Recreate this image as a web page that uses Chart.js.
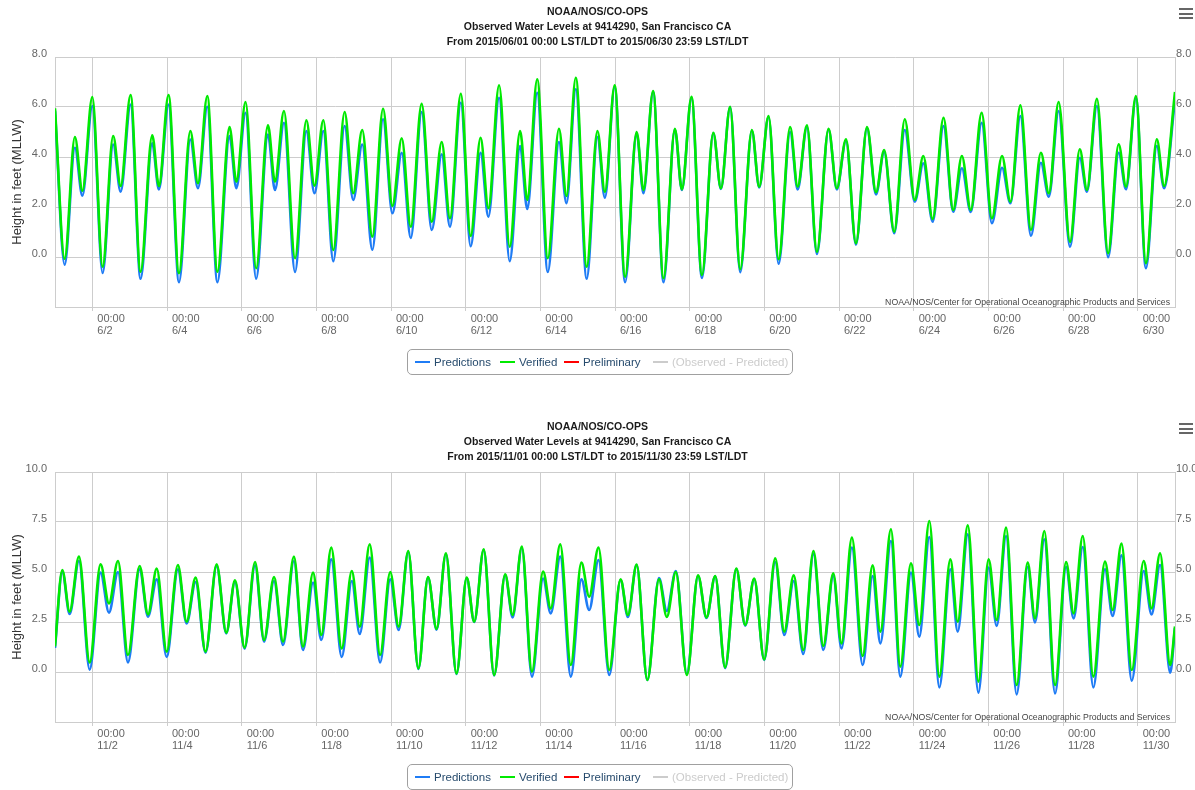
<!DOCTYPE html>
<html>
<head>
<meta charset="utf-8">
<script src="https://cdn.jsdelivr.net/npm/chart.js@4.4.1/dist/chart.umd.min.js"></script>
<style>
  html, body { margin: 0; padding: 0; background: #fff; overflow: hidden; }
  body { width: 1195px; height: 790px; position: relative; font-family: "Liberation Sans", Arial, Helvetica, sans-serif; }
  .panel { position: absolute; left: 0; width: 1195px; height: 415px; }
  .panel canvas { position: absolute; left: 0; top: 0; }
  .menu { position: absolute; left: 1179px; top: 8px; width: 14px; }
  .menu i { display: block; height: 2px; background: #666; margin-bottom: 2.5px; }
  .legend { position: absolute; left: 407px; top: 349px; width: 384px; height: 24px;
            border: 1px solid #a0a0a0; border-radius: 5px; background: #fff; font-size: 11.5px; }
  .legend .sym { position: absolute; top: 11px; width: 15px; height: 2px; }
  .legend .txt { position: absolute; top: 0; line-height: 24px; white-space: nowrap; color: #274b6d; }
</style>
</head>
<body>
<div class="panel" id="jun" style="top:0px"><canvas width="1195" height="415"></canvas><div class="menu"><i></i><i></i><i></i></div><div class="legend"></div></div>
<div class="panel" id="nov" style="top:415px"><canvas width="1195" height="415"></canvas><div class="menu"><i></i><i></i><i></i></div><div class="legend"></div></div>
<script>
// ---- data: tide turning points, hours after 00:00 on the 1st of the month ----
const JUN_HOURS = [0, 6.2, 12.8, 17.6, 24, 30.6, 37.4, 42.2, 48.6, 55, 62.5, 66.8, 73, 79.7, 87, 91.9,
  97.9, 104.4, 112.2, 116.6, 122.5, 129.3, 136.9, 141.4, 147.2, 154.3, 161.6, 166.8, 172.5, 178.9,
  186.2, 191.7, 197.5, 204, 210.9, 216.9, 222.9, 228.7, 235.7, 242.2, 248.6, 253.9, 260.9, 267.2,
  273.6, 278.6, 285.5, 292.3, 299, 303.6, 310, 316.8, 324, 328.8, 334.8, 341.8, 348.7, 353.5, 359.8,
  366.5, 373.9, 378.3, 384.5, 391.2, 398.5, 403, 409.2, 415.9, 423.2, 428.1, 434, 440.5, 448, 452.7,
  458.7, 465.2, 472.6, 477.4, 483.4, 489.8, 497.3, 502.6, 508.5, 514.9, 522, 527.8, 533, 539.5,
  546.3, 552.7, 558.2, 564.2, 571.2, 577.4, 583, 588.7, 595.7, 602.3, 608.8, 614.2, 620.6, 627.4,
  633.8, 638.9, 645.2, 652.5, 658.8, 663.4, 669.8, 677, 683.8, 688.5, 694.9, 701.3, 708.3, 713, 720];
const JUN_VERIFIED = [5.95, -0.07, 4.8, 2.65, 6.4, -0.39, 4.84, 2.84, 6.48, -0.59, 4.87, 2.84, 6.48, -0.65, 5.04, 2.95,
  6.44, -0.59, 5.2, 3.01, 6.2, -0.45, 5.27, 3.01, 5.84, -0.05, 5.47, 2.85, 5.47, 0.28,
  5.8, 2.55, 5.08, 0.81, 5.93, 2.04, 4.75, 1.21, 6.13, 1.41, 4.6, 1.55, 6.53, 0.84,
  4.77, 1.95, 6.87, 0.41, 5.04, 2.28, 7.11, -0.05, 5.13, 2.44, 7.17, -0.39, 5.04, 2.61, 6.87,
  -0.79, 5.0, 2.68, 6.64, -0.85, 5.13, 2.71, 6.41, -0.72, 4.97, 2.75, 6.01, -0.49, 5.08, 2.81,
  5.64, -0.09, 5.2, 2.81, 5.27, 0.21, 5.13, 2.75, 4.71, 0.55, 5.2, 2.59, 4.28, 1.01,
  5.51, 2.28, 4.04, 1.52, 5.57, 1.88, 4.04, 1.88, 5.77, 1.55, 4.04, 2.21, 6.07, 1.08,
  4.17, 2.55, 6.2, 0.61, 4.31, 2.68, 6.33, 0.15, 4.51, 2.81, 6.44, -0.25, 4.71, 2.84, 6.6];
const JUN_PREDICTED = [5.85, -0.31, 4.37, 2.45, 6.04, -0.64, 4.5, 2.61, 6.1, -0.87, 4.55, 2.7, 6.1, -1.01, 4.7, 2.75,
  6.01, -1.01, 4.84, 2.75, 5.77, -0.87, 4.9, 2.68, 5.37, -0.6, 5.04, 2.55, 5.04, -0.17,
  5.24, 2.28, 4.5, 0.29, 5.51, 1.75, 4.17, 0.76, 5.8, 1.08, 4.11, 1.21, 6.17, 0.43,
  4.17, 1.61, 6.37, -0.17, 4.44, 1.92, 6.57, -0.6, 4.6, 2.15, 6.71, -0.87, 4.8, 2.37, 6.8,
  -1.01, 4.95, 2.55, 6.6, -1.01, 5.1, 2.68, 6.35, -0.84, 4.95, 2.72, 6.0, -0.61, 5.05, 2.78,
  5.6, -0.27, 5.0, 2.7, 5.2, 0.12, 5.1, 2.7, 4.65, 0.5, 5.15, 2.5, 4.2, 0.95,
  5.08, 2.21, 3.75, 1.41, 5.24, 1.81, 3.55, 1.8, 5.37, 1.35, 3.57, 2.15, 5.64, 0.85,
  3.77, 2.41, 5.84, 0.41, 3.97, 2.61, 6.04, -0.01, 4.17, 2.71, 6.35, -0.45, 4.44, 2.75, 6.3];
const JUN_DATES = ['6/2', '6/4', '6/6', '6/8', '6/10', '6/12', '6/14', '6/16', '6/18', '6/20',
  '6/22', '6/24', '6/26', '6/28', '6/30'];
const JUN_Y_TICKS = [-2, 0, 2, 4, 6, 8];
const JUN_TITLE = ['NOAA/NOS/CO-OPS', 'Observed Water Levels at 9414290, San Francisco CA',
  'From 2015/06/01 00:00 LST/LDT to 2015/06/30 23:59 LST/LDT'];

const NOV_HOURS = [0, 4.7, 9.4, 15.4, 22.3, 29.3, 34.7, 40.5, 46.9, 54.4, 59.8, 65.4, 71.8, 79, 84.6, 90.4,
  96.8, 103.9, 110.1, 115.7, 121.9, 128.6, 134.4, 140.8, 146.6, 153.6, 159.4, 165.9, 171.2, 177.6,
  184.3, 190.8, 195.9, 202.3, 209, 215.5, 220.9, 227.1, 233.6, 239.8, 245.3, 251.3, 258.1, 264.7,
  269.5, 275.6, 282.3, 289.4, 294.2, 300.1, 306.6, 313.8, 318.7, 324.8, 331.6, 338.4, 343.4, 349.4,
  356.3, 363.6, 368.3, 373.9, 380.8, 388.3, 393.3, 399.1, 406.2, 413.4, 418.8, 424.4, 430.8, 438,
  443.7, 449.5, 455.9, 463, 468.8, 474.9, 481, 487.6, 493.9, 500.3, 505.6, 512.3, 519.2, 525.6,
  530.6, 537.4, 543.4, 550.3, 555.6, 562.1, 568.5, 575.6, 580.3, 586.8, 593.6, 600.2, 605.4, 611.4,
  618.2, 625.3, 630, 636, 642.9, 650, 654.8, 660.7, 667.5, 675, 679.9, 685.6, 692.2, 699.9, 704.9,
  710.4, 716.9, 720];
const NOV_VERIFIED = [1.28, 5.1, 3.02, 5.77, 0.48, 5.38, 3.43, 5.55, 0.85, 5.3, 2.88, 5.17, 1.02, 5.35, 2.52, 4.72,
  1.02, 5.38, 1.97, 4.58, 1.22, 5.5, 1.6, 4.75, 1.52, 5.77, 1.27, 4.97, 1.85, 6.22,
  1.18, 5.05, 2.27, 6.38, 0.85, 5.0, 2.27, 6.05, 0.18, 4.75, 2.15, 5.93, -0.07, 4.72,
  2.52, 6.13, -0.15, 4.88, 2.85, 6.27, 0.02, 5.02, 3.18, 6.38, 0.35, 5.47, 3.77, 6.22,
  0.1, 4.63, 2.85, 5.37, -0.4, 4.63, 2.75, 5.0, -0.15, 4.83, 2.73, 4.8, 0.23, 5.17,
  2.35, 4.67, 0.63, 5.68, 2.02, 4.83, 1.1, 6.05, 1.3, 4.93, 1.43, 6.72, 0.8, 5.33,
  2.02, 7.13, 0.27, 5.43, 2.35, 7.55, -0.23, 5.63, 2.52, 7.33, -0.48, 5.63, 2.6, 7.22,
  -0.65, 5.47, 2.68, 7.05, -0.65, 5.5, 2.93, 6.8, -0.23, 5.52, 3.1, 6.42, 0.1, 5.55, 3.18,
  5.93, 0.35, 2.28];
const NOV_PREDICTED = [1.2, 5.0, 2.9, 5.55, 0.12, 4.97, 2.97, 5.0, 0.48, 5.13, 2.77, 4.63, 0.75, 5.13, 2.43, 4.5,
  0.97, 5.3, 1.93, 4.5, 1.17, 5.33, 1.52, 4.55, 1.35, 5.55, 1.1, 4.47, 1.6, 5.63,
  0.75, 4.55, 1.9, 5.72, 0.48, 4.63, 2.1, 6.0, 0.15, 4.72, 2.12, 5.9, -0.1, 4.7,
  2.5, 6.1, -0.17, 4.85, 2.73, 6.2, -0.23, 4.67, 2.93, 5.77, -0.23, 4.63, 3.1, 5.6,
  -0.15, 4.6, 2.75, 5.35, -0.4, 4.7, 3.05, 5.05, -0.1, 4.8, 2.7, 4.78, 0.2, 5.15,
  2.32, 4.63, 0.6, 5.5, 1.85, 4.55, 0.9, 5.9, 1.1, 4.8, 1.18, 6.22, 0.35, 4.8,
  1.43, 6.55, -0.23, 4.97, 1.77, 6.75, -0.77, 5.13, 2.02, 6.88, -1.03, 5.22, 2.3, 6.8,
  -1.12, 5.25, 2.48, 6.63, -1.07, 5.25, 2.68, 6.25, -0.77, 5.13, 2.8, 5.83, -0.43, 5.05, 2.88,
  5.35, -0.03, 2.2];
const NOV_DATES = ['11/2', '11/4', '11/6', '11/8', '11/10', '11/12', '11/14', '11/16', '11/18', '11/20',
  '11/22', '11/24', '11/26', '11/28', '11/30'];
const NOV_Y_TICKS = [-2.5, 0, 2.5, 5, 7.5, 10];
const NOV_TITLE = ['NOAA/NOS/CO-OPS', 'Observed Water Levels at 9414290, San Francisco CA',
  'From 2015/11/01 00:00 LST/LDT to 2015/11/30 23:59 LST/LDT'];

const TICK_HOURS = [24, 72, 120, 168, 216, 264, 312, 360, 408, 456, 504, 552, 600, 648, 696];
const TICK_TIME = '00:00';
const Y_TITLE = 'Height in feet (MLLW)';
const CREDIT = 'NOAA/NOS/Center for Operational Oceanographic Products and Services';

const FONT = '"Liberation Sans", Arial, Helvetica, sans-serif';
const GRID = '#cdcdcd';
const LEGEND_X = [7, 92, 156, 245];

// credits text in the lower right corner of the plot
const creditPlugin = {
  id: 'credit',
  afterDraw(chart) {
    const { ctx, chartArea } = chart;
    ctx.save();
    ctx.font = '8.7px ' + FONT;
    ctx.fillStyle = '#444';
    ctx.textAlign = 'right';
    ctx.textBaseline = 'middle';
    ctx.fillText(CREDIT, chartArea.right - 5, chartArea.bottom - 4);
    ctx.restore();
  }
};

function points(hours, values) {
  return hours.map(function (h, i) { return { x: h, y: values[i] }; });
}

function makePanel(id, hours, predicted, verified, dates, yTicks, title) {
  const panel = document.getElementById(id);
  const ctx = panel.querySelector('canvas').getContext('2d');
  const yMin = yTicks[0], yMax = yTicks[yTicks.length - 1];
  const tickFont = { family: FONT, size: 11 };

  const setYTicks = function (s) { s.ticks = yTicks.map(function (v) { return { value: v }; }); };
  const yLabel = function (v) { return v === yMin ? '' : v.toFixed(1); };

  const chart = new Chart(ctx, {
    type: 'line',
    data: {
      datasets: [
        { label: 'Predictions', data: points(hours, predicted), borderColor: '#1f7cf5', order: 2 },
        { label: 'Verified', data: points(hours, verified), borderColor: '#00ea00', order: 1 },
        { label: 'Preliminary', data: [], borderColor: '#ff0000', order: 3 },
        { label: '(Observed - Predicted)', data: [], borderColor: '#cccccc', hidden: true, order: 4 }
      ]
    },
    options: {
      responsive: false,
      animation: false,
      devicePixelRatio: 1,
      layout: { padding: { top: 0, left: 0, right: 0, bottom: 68 } },
      elements: {
        line: { borderWidth: 2.6, cubicInterpolationMode: 'monotone', fill: false },
        point: { radius: 0, hoverRadius: 0 }
      },
      plugins: {
        legend: { display: false },
        tooltip: { enabled: false },
        title: {
          display: true, text: title, color: '#1a1a1a',
          font: { family: FONT, size: 10.5, weight: 'bold', lineHeight: 15 / 10.5 },
          padding: { top: 5, bottom: 7 }
        }
      },
      scales: {
        x: {
          type: 'linear', min: 0, max: 720,
          afterBuildTicks: function (s) { s.ticks = TICK_HOURS.map(function (v) { return { value: v }; }); },
          afterFit: function (s) { s.height = 40; },
          ticks: {
            autoSkip: false, maxRotation: 0, minRotation: 0, align: 'start', labelOffset: 5, padding: 1.5,
            color: '#666', font: { family: FONT, size: 11, lineHeight: 12 / 11 },
            callback: function (v, i) { return [TICK_TIME, dates[i]]; }
          },
          grid: { color: GRID, tickLength: 4 },
          border: { color: GRID }
        },
        y: {
          position: 'left', min: yMin, max: yMax,
          afterBuildTicks: setYTicks,
          afterFit: function (s) { s.width = 55; },
          ticks: { padding: 8, labelOffset: -3, color: '#666', font: tickFont, callback: yLabel },
          grid: { color: GRID, drawTicks: false },
          border: { color: GRID },
          title: { display: true, text: Y_TITLE, color: '#333', font: { family: FONT, size: 13 }, padding: { top: 10, bottom: 0 } }
        },
        y1: {
          position: 'right', min: yMin, max: yMax,
          afterBuildTicks: setYTicks,
          afterFit: function (s) { s.width = 20; },
          ticks: { padding: 1, labelOffset: -3, color: '#666', font: tickFont, callback: yLabel },
          grid: { drawOnChartArea: false, drawTicks: false },
          border: { color: GRID }
        }
      }
    },
    plugins: [creditPlugin]
  });

  // html legend built from the chart's datasets
  const legend = panel.querySelector('.legend');
  chart.data.datasets.forEach(function (ds, i) {
    const sym = document.createElement('span');
    sym.className = 'sym';
    sym.style.left = LEGEND_X[i] + 'px';
    sym.style.background = ds.borderColor;
    const txt = document.createElement('span');
    txt.className = 'txt';
    txt.style.left = (LEGEND_X[i] + 19) + 'px';
    txt.textContent = ds.label;
    if (ds.hidden) txt.style.color = '#cccccc';
    legend.appendChild(sym);
    legend.appendChild(txt);
  });
  return chart;
}

makePanel('jun', JUN_HOURS, JUN_PREDICTED, JUN_VERIFIED, JUN_DATES, JUN_Y_TICKS, JUN_TITLE);
makePanel('nov', NOV_HOURS, NOV_PREDICTED, NOV_VERIFIED, NOV_DATES, NOV_Y_TICKS, NOV_TITLE);
</script>
</body>
</html>
